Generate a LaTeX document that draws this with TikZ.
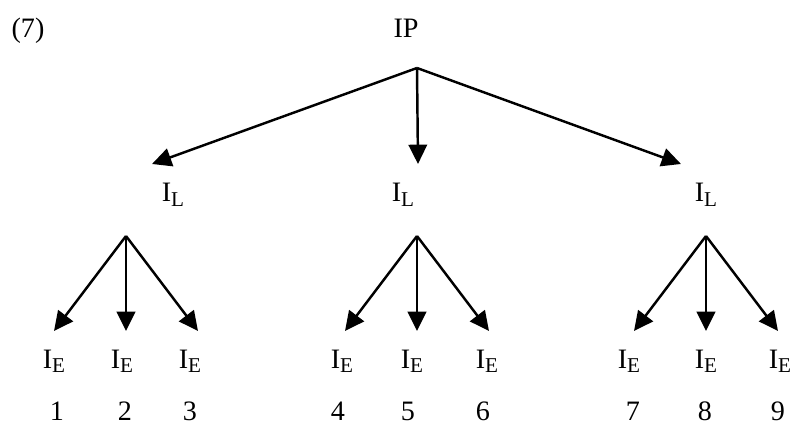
\documentclass[tikz,border=0pt]{standalone}
\usepackage{fontspec}
\setmainfont{Liberation Serif}
\usetikzlibrary{arrows.meta,positioning}

\newcommand{\lsub}[1]{I\raisebox{-0.32ex}{\fontsize{12}{13}\selectfont #1}}

\begin{document}
\begin{tikzpicture}[
  line width=1.4pt, font=\fontsize{16}{19}\selectfont,
  arr/.style={-{Triangle[length=11pt, width=10.5pt]}},
  lab/.style={anchor=base, inner sep=0pt}
]
  \useasboundingbox (0,0) rectangle (15.9,-8.52);

  \node[lab] (tag) at (0.56,-0.76) {(7)};
  \node[lab] (ip) at (8.12,-0.76) {IP};
  \coordinate (ip-root) at (8.34,-1.36);

  % first level
  \foreach \x/\tx/\rx [count=\i] in {3.46/3.04/2.52, 8.06/8.36/8.34, 14.12/13.62/14.12} {
    \node[lab] (il-\i) at (\x,-4.04) {\lsub{L}};
    \coordinate (il-tip-\i) at (\tx,-3.28);
    \coordinate (il-root-\i) at (\rx,-4.72);
    \draw[arr] (ip-root) -- (il-tip-\i);
  }

  % leaves
  \foreach \lx/\nx/\s/\d [count=\n] in {1.08/1.14/1/-1, 2.44/2.50/1/0, 3.80/3.80/1/1,
      6.84/6.76/2/-1, 8.24/8.16/2/0, 9.74/9.66/2/1,
      12.58/12.66/3/-1, 14.12/14.10/3/0, 15.60/15.56/3/1} {
    \node[lab] (ie-\n) at (\lx,-7.36) {\lsub{E}};
    \node[lab] (num-\n) at (\nx,-8.40) {\n};
    \coordinate (ie-tip-\n) at ([shift={({\d*1.44},-1.9)}] il-root-\s);
    \draw[arr] (il-root-\s) -- (ie-tip-\n);
  }
\end{tikzpicture}
\end{document}
